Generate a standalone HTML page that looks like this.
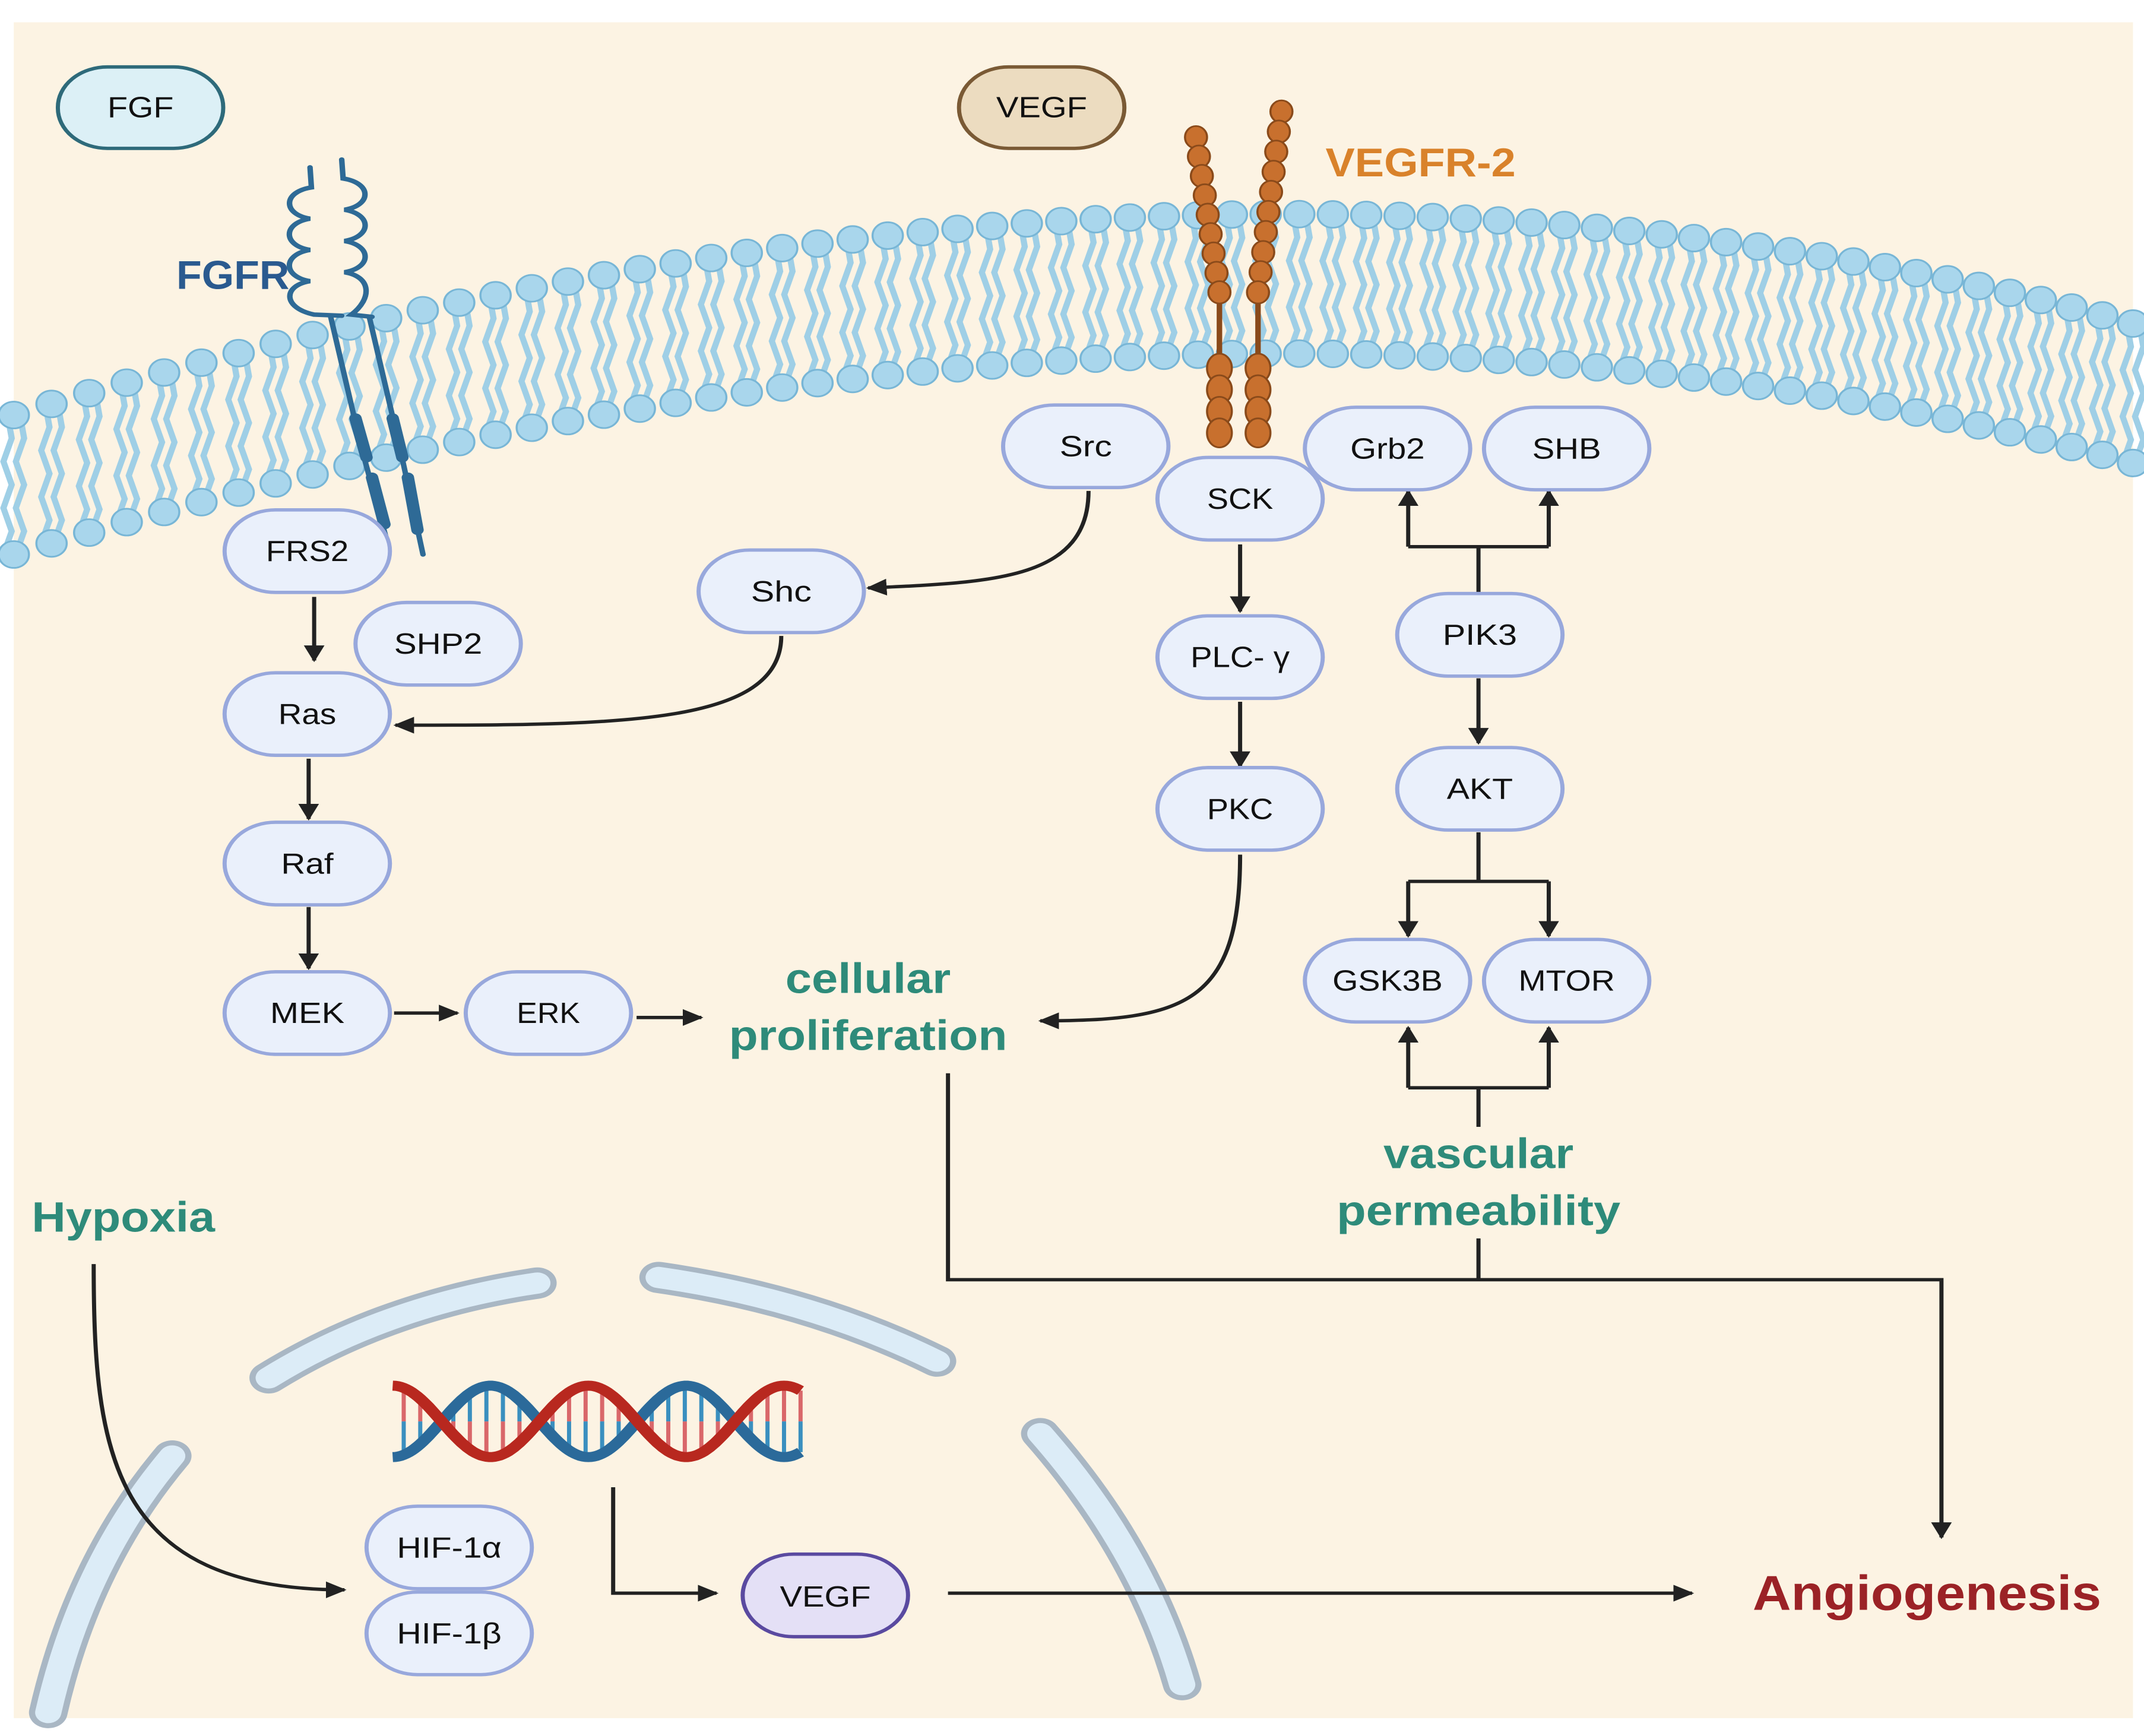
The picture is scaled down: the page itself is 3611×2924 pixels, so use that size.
<!DOCTYPE html>
<html><head><meta charset="utf-8">
<style>
html,body{margin:0;padding:0;background:#fff;}
svg{display:block;}
text{font-family:"Liberation Sans",sans-serif;}
</style></head>
<body>
<svg id="s" width="3611" height="2924" viewBox="0 0 1556 1556" preserveAspectRatio="none" xmlns="http://www.w3.org/2000/svg">
<defs>
<marker id="ah" viewBox="0 0 10 10" refX="9" refY="5" markerWidth="5" markerHeight="5" orient="auto" markerUnits="strokeWidth">
<path d="M0,0 L10,5 L0,10 z" fill="#222"/></marker>
</defs>
<rect x="0" y="0" width="1556" height="1556" fill="#fff"/>
<rect x="10" y="20" width="1538" height="1520" fill="#fcf3e3"/>

<g id="mem"></g>

<!-- FGFR receptor -->
<g fill="none" stroke="#2e6a96" stroke-width="4" stroke-linecap="round">
<path d="M225 150 L226 168 C205 172 205 192 225 196 C205 200 205 220 225 224 C205 228 205 248 225 252 C205 256 205 276 228 282 L248 283"/>
<path d="M248 143 L249 160 C270 164 270 184 250 188 C270 192 270 212 250 216 C270 220 270 240 250 244 C270 248 270 268 255 282 L270 284"/>
<path d="M240 284 L262 400 L282 490"/>
<path d="M268 284 L290 400 L307 497"/>
</g>
<g stroke="#2e6a96" stroke-width="9" stroke-linecap="round">
<line x1="258" y1="375" x2="266" y2="410"/><line x1="270" y1="428" x2="279" y2="470"/>
<line x1="285" y1="375" x2="292" y2="410"/><line x1="296" y1="428" x2="303" y2="475"/>
</g>

<g id="vegfr"></g>

<!-- Nuclear envelope -->
<g fill="none" stroke-linecap="round">
<g stroke="#a9b7c4" stroke-width="28">
<path d="M195 1235 Q280 1170 390 1150"/><path d="M478 1145 Q590 1165 680 1220"/>
<path d="M755 1285 Q830 1390 858 1510"/><path d="M125 1305 Q60 1400 35 1535"/>
</g>
<g stroke="#dcecf7" stroke-width="19">
<path d="M195 1235 Q280 1170 390 1150"/><path d="M478 1145 Q590 1165 680 1220"/>
<path d="M755 1285 Q830 1390 858 1510"/><path d="M125 1305 Q60 1400 35 1535"/>
</g>
</g>

<g id="dna"></g>

<g fill="none" stroke="#222" stroke-width="3">
<line x1="228" y1="535" x2="228" y2="592" marker-end="url(#ah)"/>
<path d="M790 440 C790 520 720 522 630 527" marker-end="url(#ah)"/>
<path d="M567 570 C567 650 450 650 287 650" marker-end="url(#ah)"/>
<line x1="224" y1="680" x2="224" y2="734" marker-end="url(#ah)"/>
<line x1="224" y1="813" x2="224" y2="868" marker-end="url(#ah)"/>
<line x1="286" y1="908" x2="332" y2="908" marker-end="url(#ah)"/>
<line x1="462" y1="912" x2="509" y2="912" marker-end="url(#ah)"/>
<line x1="900" y1="488" x2="900" y2="548" marker-end="url(#ah)"/>
<line x1="900" y1="629" x2="900" y2="687" marker-end="url(#ah)"/>
<path d="M900 766 C900 900 860 915 755 915" marker-end="url(#ah)"/>
<path d="M1073 532 L1073 490 M1022 490 L1124 490"/>
<line x1="1022" y1="490" x2="1022" y2="440" marker-end="url(#ah)"/>
<line x1="1124" y1="490" x2="1124" y2="440" marker-end="url(#ah)"/>
<line x1="1073" y1="608" x2="1073" y2="666" marker-end="url(#ah)"/>
<path d="M1073 746 L1073 790 M1022 790 L1124 790"/>
<line x1="1022" y1="790" x2="1022" y2="839" marker-end="url(#ah)"/>
<line x1="1124" y1="790" x2="1124" y2="839" marker-end="url(#ah)"/>
<path d="M1073 1010 L1073 975 M1022 975 L1124 975"/>
<line x1="1022" y1="975" x2="1022" y2="921" marker-end="url(#ah)"/>
<line x1="1124" y1="975" x2="1124" y2="921" marker-end="url(#ah)"/>
<path d="M688 962 L688 1147 L1409 1147 L1409 1378" marker-end="url(#ah)"/>
<line x1="1073" y1="1110" x2="1073" y2="1147"/>
<path d="M68 1133 C68 1300 80 1425 250 1425" marker-end="url(#ah)"/>
<path d="M445 1333 L445 1428 L520 1428" marker-end="url(#ah)"/>
<line x1="688" y1="1428" x2="1228" y2="1428" marker-end="url(#ah)"/>
</g>

<rect x="42" y="60" width="120" height="73" rx="36" fill="#dcf0f6" stroke="#2e6a7a" stroke-width="3"/>
<text x="102" y="105" font-size="26" text-anchor="middle" fill="#111" textLength="48" lengthAdjust="spacingAndGlyphs">FGF</text>
<rect x="696" y="60" width="120" height="73" rx="36" fill="#ecdcc0" stroke="#7a5a35" stroke-width="3"/>
<text x="756" y="105" font-size="26" text-anchor="middle" fill="#111" textLength="66" lengthAdjust="spacingAndGlyphs">VEGF</text>

<g font-weight="bold">
<text x="962" y="158" font-size="36" fill="#d9822b" textLength="138" lengthAdjust="spacingAndGlyphs">VEGFR-2</text>
<text x="128" y="259" font-size="36" fill="#2a5a8f" textLength="82" lengthAdjust="spacingAndGlyphs">FGFR</text>
</g>

<g id="nodes" fill="#eaf0fb" stroke="#98a8dc" stroke-width="3"></g>

<rect x="539" y="1393" width="120" height="74" rx="37" fill="#e4e0f6" stroke="#5a4aa0" stroke-width="3"/>
<text x="566" y="1440" font-size="26" fill="#111" textLength="66" lengthAdjust="spacingAndGlyphs">VEGF</text>

<g font-weight="bold" fill="#2e8b7a" lengthAdjust="spacingAndGlyphs">
<text x="570" y="890" font-size="38" textLength="120" lengthAdjust="spacingAndGlyphs">cellular</text>
<text x="529" y="941" font-size="38" textLength="202" lengthAdjust="spacingAndGlyphs">proliferation</text>
<text x="1004" y="1047" font-size="38" textLength="138" lengthAdjust="spacingAndGlyphs">vascular</text>
<text x="970" y="1098" font-size="38" textLength="206" lengthAdjust="spacingAndGlyphs">permeability</text>
<text x="23" y="1104" font-size="38" textLength="133" lengthAdjust="spacingAndGlyphs">Hypoxia</text>
<text x="1272" y="1443" font-size="44" fill="#9b2226" textLength="253" lengthAdjust="spacingAndGlyphs">Angiogenesis</text>
</g>
<g id="labels" font-size="26" fill="#111"></g>
</svg>
<script>
(function(){
var NS="http://www.w3.org/2000/svg";
function el(p,n,a){var e=document.createElementNS(NS,n);for(var k in a)e.setAttribute(k,a[k]);p.appendChild(e);return e;}
function bz(t,p0,c,p2){var u=1-t;return [u*u*p0[0]+2*u*t*c[0]+t*t*p2[0],u*u*p0[1]+2*u*t*c[1]+t*t*p2[1]];}
var mem=document.getElementById('mem');
var N=62,T=[],B=[];
for(var i=0;i<=N;i++){var t=i/N;T.push(bz(t,[10,372],[861,59],[1548,290]));B.push(bz(t,[10,497],[861,184],[1548,415]));}
for(i=0;i<=N;i++){
 var a=T[i],b=B[i];
 var dx=b[0]-a[0],dy=b[1]-a[1];
 for(var s=-1;s<=1;s+=2){
  var o=s*4.5;
  var d="M"+(a[0]+o)+" "+a[1];
  var steps=6;
  for(var k=1;k<=steps;k++){var f=k/steps;var w=(k%2?1:-1)*3;d+=" L"+(a[0]+o+dx*f+w)+" "+(a[1]+dy*f);}
  el(mem,'path',{d:d,fill:'none',stroke:'#9fcfe6','stroke-width':4.5,'stroke-linecap':'round'});
 }
}
[T,B].forEach(function(L){L.forEach(function(p){el(mem,'ellipse',{cx:p[0],cy:p[1],rx:11,ry:12,fill:'#a9d6ec',stroke:'#78b6d6','stroke-width':1.5});});});
var v=document.getElementById('vegfr');
function chain(x0,y0,x1,y1,n,rx,ry){for(var j=0;j<n;j++){var f=j/(n-1);el(v,'ellipse',{cx:x0+(x1-x0)*f,cy:y0+(y1-y0)*f,rx:rx,ry:ry,fill:'#c8702e',stroke:'#8a4a1a','stroke-width':1.5});}}
el(v,'line',{x1:885,y1:260,x2:885,y2:330,stroke:'#8a4a1a','stroke-width':4});
el(v,'line',{x1:913,y1:260,x2:913,y2:330,stroke:'#8a4a1a','stroke-width':4});
chain(868,123,885,262,9,8,10);chain(930,100,913,262,10,8,10);
chain(885,330,885,388,4,9,13);chain(913,330,913,388,4,9,13);
var g=document.getElementById('dna');
var x0=285,x1=582,mid=1274,A=32,P=142;
for(var x=x0+8;x<x1;x+=12){var yr=mid-A*Math.cos(2*Math.PI*(x-x0)/P);var yb=mid+A*Math.cos(2*Math.PI*(x-x0)/P);
 var ym=(yr+yb)/2;el(g,'line',{x1:x,y1:yr,x2:x,y2:ym,stroke:'#d9676a','stroke-width':3});el(g,'line',{x1:x,y1:ym,x2:x,y2:yb,stroke:'#3a8fbf','stroke-width':3});}
function strand(sg,col){var d="";for(var x=x0;x<=x1;x+=2){var y=mid-sg*A*Math.cos(2*Math.PI*(x-x0)/P);d+=(x==x0?"M":" L")+x+" "+y.toFixed(1);}el(g,'path',{d:d,fill:'none',stroke:col,'stroke-width':9});}
strand(-1,'#2b6a9a');strand(1,'#b8281f');
var nd=document.getElementById('nodes'),lb=document.getElementById('labels');
[[728,363,'Src',38],[840,410,'SCK',48],[947,365,'Grb2',54],[1077,365,'SHB',50],[163,457,'FRS2',60],[507,493,'Shc',44],[258,540,'SHP2',64],[163,603,'Ras',42],[840,552,'PLC- γ',72],[1014,532,'PIK3',54],[840,688,'PKC',48],[1014,670,'AKT',48],[163,737,'Raf',38],[947,842,'GSK3B',80],[1077,842,'MTOR',70],[163,871,'MEK',54],[338,871,'ERK',46],[266,1350,'HIF-1α',76],[266,1427,'HIF-1β',76]].forEach(function(p){
 el(nd,'rect',{x:p[0],y:p[1],width:120,height:74,rx:37});
 var t=el(lb,'text',{x:p[0]+60-p[3]/2,y:p[1]+46,textLength:p[3],lengthAdjust:'spacingAndGlyphs'});t.textContent=p[2];
});
})();
</script>
</body></html>
